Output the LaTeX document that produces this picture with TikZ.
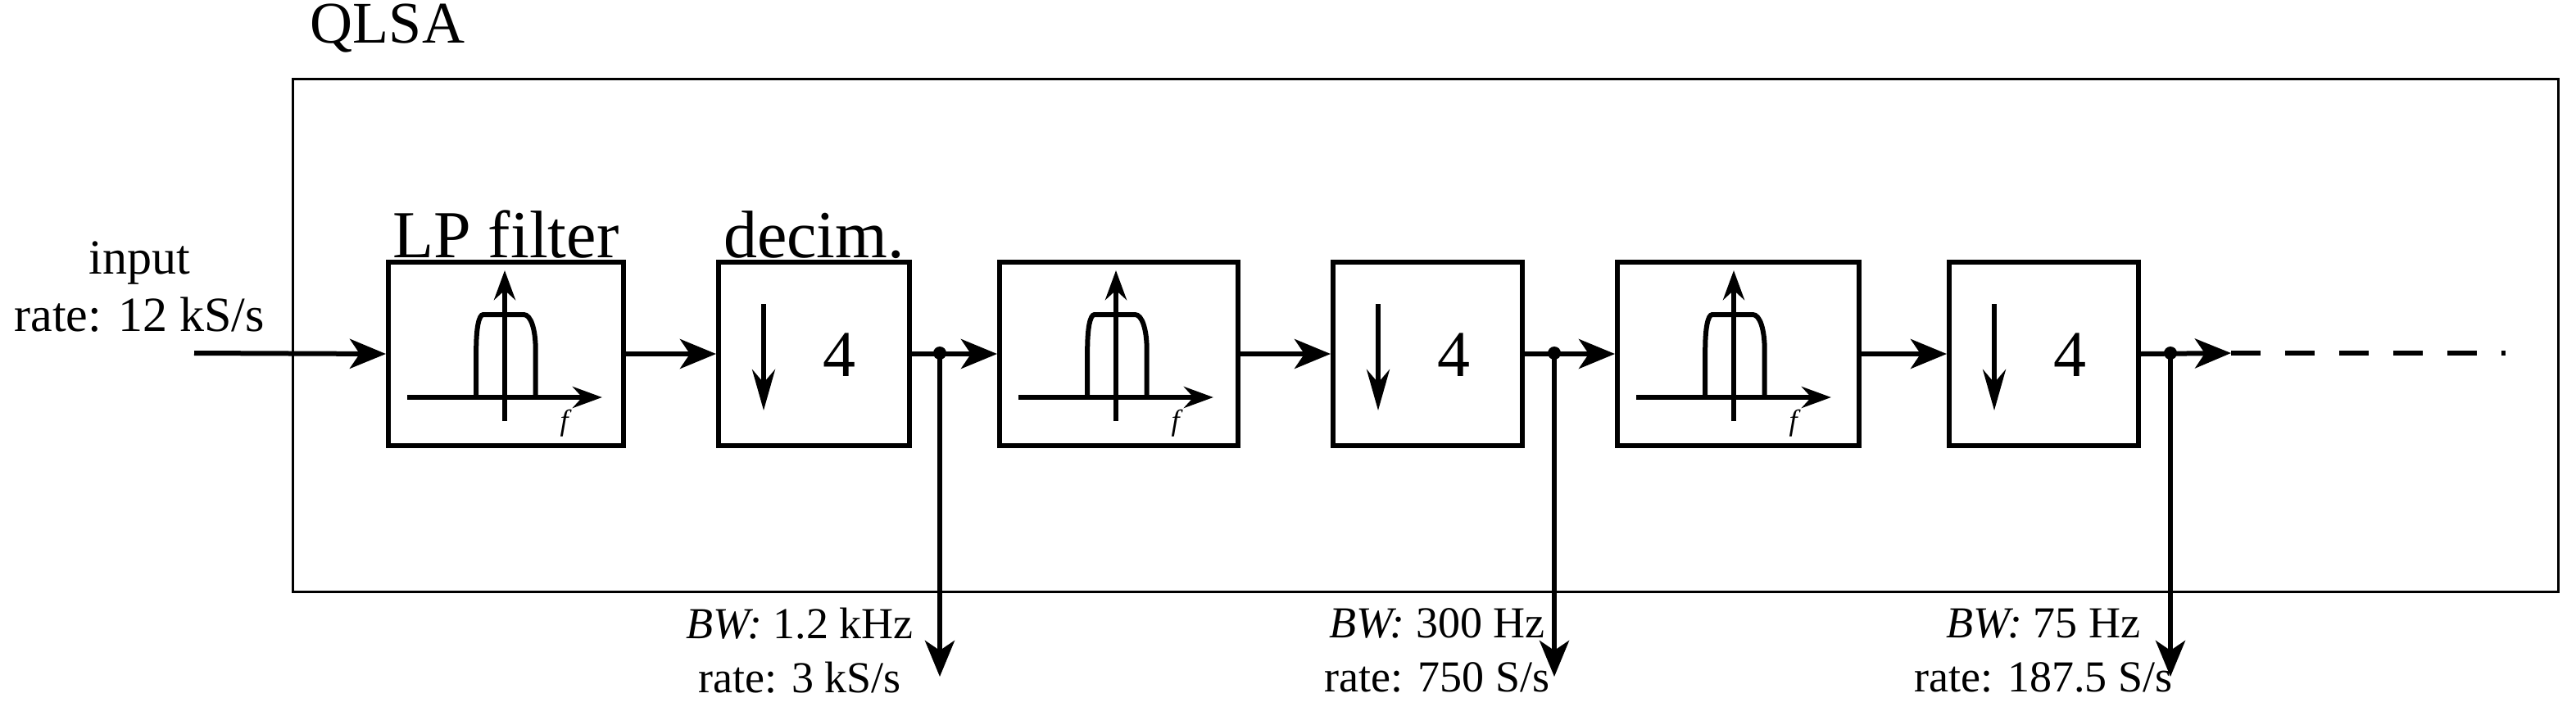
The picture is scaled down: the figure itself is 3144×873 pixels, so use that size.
\documentclass[tikz,border=0pt]{standalone}
\usepackage{fontspec}
\setmainfont{Liberation Serif}
\usetikzlibrary{arrows.meta}
\begin{document}
\begin{tikzpicture}[x=1pt,y=-1pt,
  blk/.style={draw,line width=6,minimum width=#1,minimum height=224,inner sep=0,anchor=north west},
  sig/.style={line width=6,-{Stealth[length=44,width=36,inset=12]}},
  lbl/.style={font=\fontsize{54}{66}\selectfont,align=center},
  dot/.style={circle,fill,inner sep=0,minimum size=16}]
\useasboundingbox (0,0) rectangle (3144,873);
\node[font=\fontsize{72}{80}\selectfont] (qlsa) at (473,34) {QLSA};
\draw[line width=3] (357,96) rectangle (3122,722);
\node[lbl,font=\fontsize{60}{70}\selectfont] (inp) at (170,350) {input\\rate: 12 kS/s};
\coordinate (start) at (237,431);
\node[blk=287] (f1) at (471,317) {};
\node[blk=233] (d1) at (874,317) {};
\node[blk=291] (f2) at (1217,317) {};
\node[blk=231] (d2) at (1624,317) {};
\node[blk=295] (f3) at (1971,317) {};
\node[blk=231] (d3) at (2376,317) {};
\node[font=\fontsize{82}{90}\selectfont,anchor=south] (t1) at ([yshift=-2]f1.north) {LP filter};
\node[font=\fontsize{82}{90}\selectfont,anchor=south] (t2) at ([yshift=-2]d1.north) {decim.};
\foreach \f in {f1,f2,f3}{
  \begin{scope}[shift={(\f.north west)},x=2.9pt]
    \draw[line width=6,-{Stealth[length=36,width=26]}] (9,168) -- (91,168);
    \draw[line width=6,-{Stealth[length=36,width=26]}] (50,197) -- (50,13);
    \draw[line width=6] (38,168) -- (38,110) .. controls (38,85) and (39,67) .. (41,67) -- (58,67) .. controls (61,67) and (63,85) .. (63,110) -- (63,168);
    \node[font=\itshape\fontsize{36}{40}\selectfont] at (75,200) {f};
  \end{scope}}
\foreach \d in {d1,d2,d3}{
  \draw[line width=6,-{Stealth[length=50,width=28]}] ([xshift=58,yshift=-54]\d.north west) -- ([xshift=58,yshift=-184]\d.north west);
  \node[font=\fontsize{80}{90}\selectfont] at ([xshift=150,yshift=-116]\d.north west) {4};}
\draw[sig] (start) -- (f1.west);
\draw[sig] (f1.east) -- (d1.west);
\draw[sig] (d1.east) -- (f2.west);
\draw[sig] (f2.east) -- (d2.west);
\draw[sig] (d2.east) -- (f3.west);
\draw[sig] (f3.east) -- (d3.west);
\node[dot] (j1) at (1147,431) {};
\node[dot] (j2) at (1897,431) {};
\node[dot] (j3) at (2649,431) {};
\coordinate (o1) at (1147,826);
\coordinate (o2) at (1897,826);
\coordinate (o3) at (2649,826);
\draw[sig] (j1.center) -- (o1);
\draw[sig] (j2.center) -- (o2);
\draw[sig] (j3.center) -- (o3);
\coordinate (a3) at (2723,431);
\coordinate (e3) at (3058,431);
\draw[sig] (d3.east) -- (a3);
\draw[line width=6,dash pattern=on 36 off 30] (a3) -- (e3);
\node[lbl] (l1) at (976,794) {\textit{BW:} 1.2 kHz\\rate: 3 kS/s};
\node[lbl] (l2) at (1754,794) {\textit{BW:} 300 Hz\\rate: 750 S/s};
\node[lbl] (l3) at (2494,794) {\textit{BW:} 75 Hz\\rate: 187.5 S/s};
\end{tikzpicture}
\end{document}
